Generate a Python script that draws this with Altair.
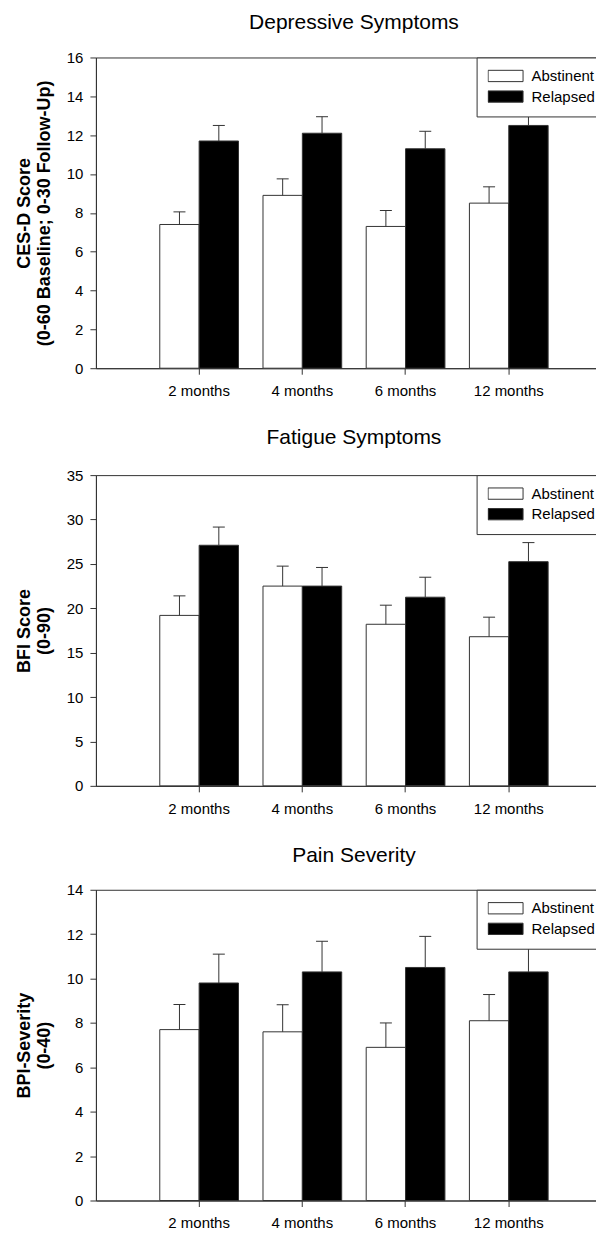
import altair as alt
import pandas as pd

FONT = "Liberation Sans"
INK = "#333333"

months = ["2 months", "4 months", "6 months", "12 months"]
groups = ["Abstinent", "Relapsed"]

# Depressive symptoms (CES-D): mean and upper error value
ces_abst = [7.4, 8.9, 7.3, 8.5]
ces_abst_hi = [8.05, 9.75, 8.12, 9.34]
ces_rel = [11.7, 12.1, 11.3, 12.5]
ces_rel_hi = [12.5, 12.95, 12.2, 13.4]

# Fatigue symptoms (BFI)
bfi_abst = [19.2, 22.5, 18.2, 16.8]
bfi_abst_hi = [21.4, 24.75, 20.35, 19.0]
bfi_rel = [27.1, 22.5, 21.25, 25.25]
bfi_rel_hi = [29.15, 24.6, 23.5, 27.4]

# Pain severity (BPI)
bpi_abst = [7.7, 7.6, 6.9, 8.1]
bpi_abst_hi = [8.83, 8.82, 8.0, 9.28]
bpi_rel = [9.8, 10.3, 10.5, 10.3]
bpi_rel_hi = [11.1, 11.68, 11.9, 11.7]


def make_df(abst, abst_hi, rel, rel_hi):
    rows = []
    for i, m in enumerate(months):
        rows.append({"month": m, "group": "Abstinent", "value": abst[i], "upper": abst_hi[i]})
        rows.append({"month": m, "group": "Relapsed", "value": rel[i], "upper": rel_hi[i]})
    return pd.DataFrame(rows)


def panel(title, ytitle, ymax, ystep, df, title_offset, height):
    # one empty half-slot on each side: first category sits one step from the y axis
    xscale = alt.Scale(paddingInner=0, paddingOuter=0.5)
    xaxis = alt.Axis(title=None, labelAngle=0, labelPadding=9.5, tickSize=6)
    x = alt.X("month:N", sort=months, scale=xscale, axis=xaxis)
    xo = alt.XOffset(
        "group:N", sort=groups, scale=alt.Scale(paddingInner=0, paddingOuter=0.311)
    )
    yscale = alt.Scale(domain=[0, ymax], nice=False, zero=True)
    yaxis = alt.Axis(
        values=list(range(0, ymax + 1, ystep)),
        title=ytitle,
        titleFontSize=18,
        titleFontWeight="bold",
        titleLineHeight=19.5,
        titlePadding=13,
        labelPadding=7,
        tickSize=6,
        grid=False,
    )
    color = alt.Color(
        "group:N",
        sort=groups,
        scale=alt.Scale(domain=groups, range=["white", "black"]),
        legend=alt.Legend(
            title=None,
            orient="none",
            legendX=381,
            legendY=0,
            padding=11,
            strokeColor=INK,
            fillColor="white",
            cornerRadius=0,
            symbolType="M-1,-0.323H1V0.323H-1Z",
            symbolSize=1225,
            symbolStrokeColor=INK,
            symbolStrokeWidth=1,
            symbolOpacity=1,
            labelFont=FONT,
            labelFontSize=15,
            labelColor="black",
            labelOffset=8,
            rowPadding=4.6,
            clipHeight=15,
        ),
    )
    bars = alt.Chart(df).mark_bar(stroke=INK, strokeWidth=1, opacity=1).encode(
        x=x, xOffset=xo,
        y=alt.Y("value:Q", scale=yscale, axis=yaxis),
        color=color,
    )
    rules = alt.Chart(df).mark_rule(color=INK, strokeWidth=1).encode(
        x=x, xOffset=xo,
        y=alt.Y("value:Q", scale=yscale, axis=yaxis),
        y2="upper:Q",
    )
    caps = alt.Chart(df).mark_tick(color=INK, thickness=1, size=12, opacity=1).encode(
        x=x, xOffset=xo,
        y=alt.Y("upper:Q", scale=yscale, axis=yaxis),
    )
    return alt.layer(bars, rules, caps).properties(
        width=516.5,
        height=height,
        title=alt.TitleParams(
            title,
            offset=title_offset,
            fontSize=21,
            fontWeight="normal",
            font=FONT,
            color="black",
            anchor="middle",
        ),
    )


p1 = panel("Depressive Symptoms", ["CES-D Score", "(0-60 Baseline; 0-30 Follow-Up)"], 16, 2,
           make_df(ces_abst, ces_abst_hi, ces_rel, ces_rel_hi), 17.8, 311)
p2 = panel("Fatigue Symptoms", ["BFI Score", "(0-90)"], 35, 5,
           make_df(bfi_abst, bfi_abst_hi, bfi_rel, bfi_rel_hi), 19.8, 311)
p3 = panel("Pain Severity", ["BPI-Severity", "(0-40)"], 14, 2,
           make_df(bpi_abst, bpi_abst_hi, bpi_rel, bpi_rel_hi), 16.8, 311)

chart = (
    alt.vconcat(p1, p2, p3, spacing=27)
    .resolve_scale(color="independent")
    .resolve_legend(color="independent")
    .properties(padding={"left": 7, "top": 2, "right": -17, "bottom": -2}, background="white")
    .configure_view(stroke=INK, strokeWidth=1)
    .configure_axis(
        domainColor=INK,
        tickColor=INK,
        labelColor="black",
        titleColor="black",
        labelFont=FONT,
        titleFont=FONT,
        labelFontSize=15,
        grid=False,
    )
)

chart.save("out.html", embed_options={"renderer": "svg", "actions": False})
